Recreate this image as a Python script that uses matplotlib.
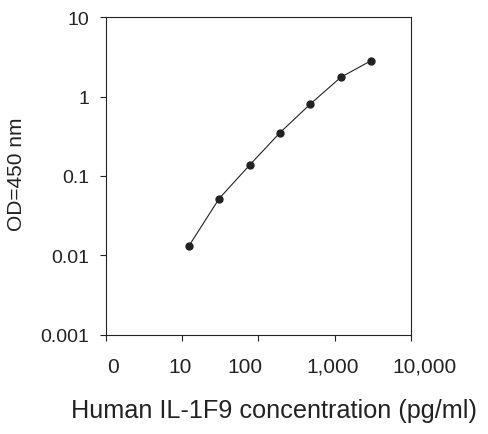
import matplotlib.pyplot as plt
import matplotlib.transforms as mtransforms

# standard curve data
conc = [12.3, 30.7, 76.8, 192, 480, 1200, 3000]
od = [0.0131, 0.052, 0.137, 0.351, 0.807, 1.75, 2.84]

xticks = [1, 10, 100, 1000, 10000]
xtick_labels = ['0', '10', '100', '1,000', '10,000']
yticks = [0.001, 0.01, 0.1, 1, 10]
ytick_labels = ['0.001', '0.01', '0.1', '1', '10']

plt.rcParams['font.family'] = ['Liberation Sans', 'DejaVu Sans']

fig = plt.figure(figsize=(4.88, 4.35), dpi=100)
ax = fig.add_axes([0.2166, 0.2283, 0.6256, 0.7297])

ax.plot(conc, od, color='#222222', lw=0.8, marker='o', markersize=5,
        markerfacecolor='#222222', markeredgecolor='#222222')

ax.set_xscale('log')
ax.set_yscale('log')
ax.set_xlim(1, 10000)
ax.set_ylim(0.001, 10)
ax.minorticks_off()

ax.set_xticks(xticks)
ax.set_xticklabels(xtick_labels)
ax.set_yticks(yticks)
ax.set_yticklabels(ytick_labels)

ax.tick_params(axis='x', direction='out', length=4, width=0.8, pad=12,
               labelsize=15, colors='#222222')
ax.tick_params(axis='y', direction='out', length=4, width=0.8, pad=8,
               labelsize=14, colors='#222222')

# the labels in the original sit a little off their ticks
shifts = [7, -2, -13, -2, 14]
for lab, dx in zip(ax.get_xticklabels(), shifts):
    lab.set_transform(lab.get_transform() +
                      mtransforms.ScaledTranslation(dx / 100, 0, fig.dpi_scale_trans))

for s in ax.spines.values():
    s.set_linewidth(0.8)
    s.set_color('#222222')

ax.set_xlabel('Human IL-1F9 concentration (pg/ml)', fontsize=18.2, color='#222222')
ax.set_ylabel('OD=450 nm', fontsize=15, color='#222222')
ax.xaxis.set_label_coords(0.552, -0.2)
ax.yaxis.set_label_coords(-0.262, 0.51)

fig.savefig('out.png', dpi=100)
